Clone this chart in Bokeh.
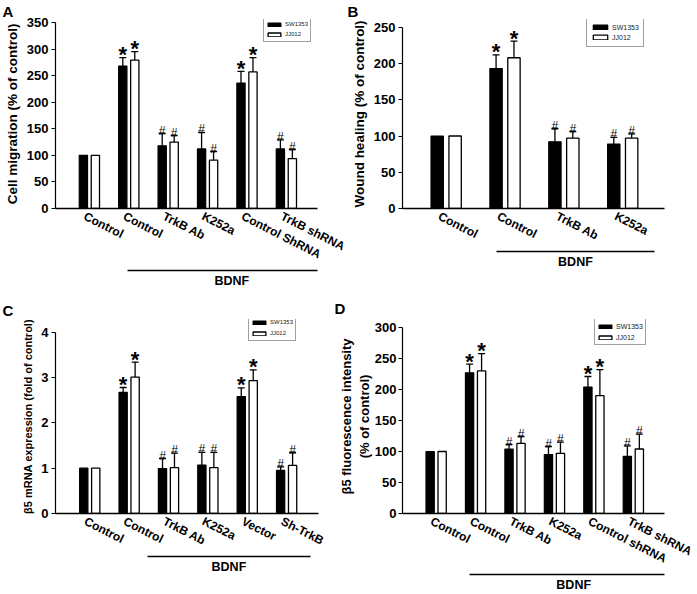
import numpy as np
from bokeh.plotting import figure
from bokeh.models import (Range1d, FixedTicker, LinearAxis, ColumnDataSource, Whisker,
                          TeeHead, Legend, LegendItem)
from bokeh.layouts import row, column
from bokeh.core.properties import value
from bokeh.embed import file_html
from bokeh.resources import INLINE

FONT = "Liberation Sans"
series_names = ["SW1353", "JJ012"]
group_label = "BDNF"

# ---------------- Panel A ----------------
a_categories = ["Control", "Control", "TrkB Ab", "K252a", "Control ShRNA", "TrkB shRNA"]
a_sw1353 = [100, 268, 118, 112, 236, 112]
a_sw1353_err = [0, 16, 23, 31, 22, 17]
a_jj012 = [100, 279, 125, 91, 257, 94]
a_jj012_err = [0, 16, 12, 16, 27, 17]
a_sw1353_sig = ["", "*", "#", "#", "*", "#"]
a_jj012_sig = ["", "*", "#", "#", "*", "#"]
a_yticks = [0, 50, 100, 150, 200, 250, 300, 350]
a_ylabel = "Cell migration (% of control)"

# ---------------- Panel B ----------------
b_categories = ["Control", "Control", "TrkB Ab", "K252a"]
b_sw1353 = [100, 193, 92, 89]
b_sw1353_err = [0, 19, 18, 9]
b_jj012 = [100, 208, 97, 97]
b_jj012_err = [0, 23, 9, 6]
b_sw1353_sig = ["", "*", "#", "#"]
b_jj012_sig = ["", "*", "#", "#"]
b_yticks = [0, 50, 100, 150, 200, 250]
b_ylabel = "Wound healing (% of control)"

# ---------------- Panel C ----------------
c_categories = ["Control", "Control", "TrkB Ab", "K252a", "Vector", "Sh-TrkB"]
c_sw1353 = [1.0, 2.67, 0.99, 1.07, 2.58, 0.95]
c_sw1353_err = [0, 0.11, 0.22, 0.28, 0.19, 0.08]
c_jj012 = [1.0, 3.01, 1.01, 1.01, 2.93, 1.06]
c_jj012_err = [0, 0.33, 0.32, 0.34, 0.24, 0.28]
c_sw1353_sig = ["", "*", "#", "#", "*", "#"]
c_jj012_sig = ["", "*", "#", "#", "*", "#"]
c_yticks = [0, 1, 2, 3, 4]
c_ylabel = "β5 mRNA expression (fold of control)"

# ---------------- Panel D ----------------
d_categories = ["Control", "Control", "TrkB Ab", "K252a", "Control shRNA", "TrkB shRNA"]
d_sw1353 = [100, 227, 104, 95, 204, 92]
d_sw1353_err = [0, 14, 7, 13, 17, 17]
d_jj012 = [100, 230, 113, 97, 190, 104]
d_jj012_err = [0, 28, 11, 18, 42, 24]
d_sw1353_sig = ["", "*", "#", "#", "*", "#"]
d_jj012_sig = ["", "*", "#", "#", "*", "#"]
d_yticks = [0, 50, 100, 150, 200, 250, 300]
d_ylabel = "β5 fluorescence intensity\n(% of control)"

BAR_OFF = 0.152
BAR_W = 0.21
LABEL_SHIFT = -0.12


def make_panel(cats, sw, sw_err, jj, jj_err, sw_sig, jj_sig, yticks, ylabel, lay):
    frame_h = lay["height"] - lay["top"] - lay["bottom"]
    head = lay["head"]
    ytop = yticks[-1]
    y_end = ytop * frame_h / (frame_h - head)
    p = figure(width=lay["width"], height=lay["height"], title=lay["letter"],
               x_range=Range1d(*lay["xr"]), y_range=Range1d(0, y_end),
               output_backend="svg", toolbar_location=None,
               min_border_left=lay["left"], min_border_right=lay["right"],
               min_border_top=lay["top"], min_border_bottom=lay["bottom"])
    p.outline_line_color = None
    p.xgrid.visible = False
    p.ygrid.visible = False
    p.background_fill_color = "white"
    p.border_fill_color = "white"

    # panel letter
    t = p.title
    t.align = "left"
    t.offset = lay["loff"]
    t.standoff = lay["lstand"]
    t.text_font = FONT
    t.text_font_style = "bold"
    t.text_font_size = "15px"
    t.text_color = "black"
    t.text_line_height = 1.0

    n = len(cats)
    idx = np.arange(n)

    # y axis
    ya = p.yaxis[0]
    ya.ticker = FixedTicker(ticks=yticks)
    ya.bounds = (0, ytop)
    ya.axis_line_color = "black"
    ya.axis_line_width = 1.2
    ya.major_tick_line_color = "black"
    ya.major_tick_line_width = 1.2
    ya.major_tick_out = 4
    ya.major_tick_in = 0
    ya.minor_tick_line_color = None
    ya.major_label_standoff = lay.get("ystand", 3)
    ya.major_label_text_font = FONT
    ya.major_label_text_font_style = "bold"
    ya.major_label_text_font_size = "13px"
    ya.major_label_text_color = "black"
    ya.axis_label = ylabel
    ya.axis_label_standoff = lay.get("ylstand", 4)
    ya.axis_label_text_font = FONT
    ya.axis_label_text_font_style = "bold"
    ya.axis_label_text_font_size = lay["ylfont"]
    ya.axis_label_text_color = "black"

    # x axis with rotated category labels
    ticks = [float(i + LABEL_SHIFT) for i in idx]
    xa = p.xaxis[0]
    xa.ticker = FixedTicker(ticks=ticks)
    xa.major_label_overrides = {tk: c for tk, c in zip(ticks, cats)}
    xa.major_label_orientation = -0.47
    xa.major_tick_line_color = None
    xa.major_tick_out = 0
    xa.major_tick_in = 0
    xa.minor_tick_line_color = None
    xa.axis_line_color = "black"
    xa.axis_line_width = 1.3
    xa.major_label_standoff = 7
    xa.major_label_text_font = FONT
    xa.major_label_text_font_style = "bold"
    xa.major_label_text_font_size = "12px"
    xa.major_label_text_color = "black"

    # BDNF bracket: a bounded axis line with a single centred label
    b0, b1 = lay["bdnf"]
    mid = (b0 + b1) / 2.0
    ax2 = LinearAxis(bounds=(b0, b1), ticker=FixedTicker(ticks=[mid]),
                     major_label_overrides={mid: group_label})
    ax2.major_tick_line_color = None
    ax2.major_tick_out = 0
    ax2.major_tick_in = 0
    ax2.minor_tick_line_color = None
    ax2.axis_line_color = "black"
    ax2.axis_line_width = 1.5
    ax2.major_label_standoff = 3
    ax2.major_label_text_font = FONT
    ax2.major_label_text_font_style = "bold"
    ax2.major_label_text_font_size = "12.5px"
    ax2.major_label_text_color = "black"
    p.add_layout(ax2, "below")

    # bars
    x_sw = idx - BAR_OFF
    x_jj = idx + BAR_OFF
    r_sw = p.vbar(x=x_sw, top=sw, width=BAR_W, bottom=0, fill_color="black",
                  line_color="black", line_width=1.2)
    r_jj = p.vbar(x=x_jj, top=jj, width=BAR_W, bottom=0, fill_color="white",
                  line_color="black", line_width=1.3)

    # error bars (upper only)
    ex, elo, ehi = [], [], []
    for xs, vals, errs in ((x_sw, sw, sw_err), (x_jj, jj, jj_err)):
        for x, v, e in zip(xs, vals, errs):
            if e > 0:
                ex.append(float(x)); elo.append(v); ehi.append(v + e)
    esrc = ColumnDataSource(dict(x=ex, lower=elo, upper=ehi))
    p.add_layout(Whisker(source=esrc, base="x", lower="lower", upper="upper",
                         dimension="height", line_color="black", line_width=1.3,
                         lower_head=None,
                         upper_head=TeeHead(size=7, line_color="black", line_width=1.3)))

    # significance marks
    stars = dict(x=[], y=[], t=[])
    hashes = dict(x=[], y=[], t=[])
    for xs, vals, errs, sigs in ((x_sw, sw, sw_err, sw_sig), (x_jj, jj, jj_err, jj_sig)):
        for x, v, e, s in zip(xs, vals, errs, sigs):
            if s == "*":
                stars["x"].append(float(x)); stars["y"].append(v + e); stars["t"].append(s)
            elif s == "#":
                hashes["x"].append(float(x)); hashes["y"].append(v + e); hashes["t"].append(s)
    p.text(x="x", y="y", text="t", source=ColumnDataSource(stars),
           text_font=value(FONT), text_font_size="22px", text_font_style="bold",
           text_align="center", text_baseline="alphabetic", y_offset=-3, text_color="black")
    p.text(x="x", y="y", text="t", source=ColumnDataSource(hashes),
           text_font=value(FONT), text_font_size="12px", text_font_style="normal",
           text_align="center", text_baseline="alphabetic", y_offset=-3, text_color="black")

    # legend
    lg = lay["legend"]
    legend = Legend(items=[LegendItem(label=series_names[0], renderers=[r_sw]),
                           LegendItem(label=series_names[1], renderers=[r_jj])],
                    location=lg["loc"])
    legend.border_line_color = "#444444"
    legend.border_line_width = 1
    legend.background_fill_color = "white"
    legend.background_fill_alpha = 1
    legend.padding = lg["pad"]
    legend.spacing = lg["sp"]
    legend.margin = 0
    legend.glyph_width = lg["gw"]
    legend.glyph_height = lg["gh"]
    legend.label_height = lg["lh"]
    legend.label_standoff = 3
    legend.label_text_font = FONT
    legend.label_text_font_size = lg["font"]
    legend.label_text_color = "#222222"
    legend.label_text_baseline = "middle"
    p.add_layout(legend)
    return p


lay_a = dict(width=347, height=295, left=55, right=30, top=19, bottom=86, head=3,
             xr=(-0.86, 5.79), bdnf=(0.96, 6.27), ylfont="13.5px",
             letter="A", loff=-53, lstand=0,
             legend=dict(loc=(208, 166), pad=2, sp=0, gw=16, gh=5, lh=10, font="6px"))
lay_b = dict(width=350, height=295, left=55, right=33, top=14, bottom=87, head=8,
             xr=(-0.742, 3.71), bdnf=(0.854, 3.54), ylfont="13.5px",
             letter="B", loff=-55, lstand=0,
             legend=dict(loc=(184, 161), pad=4, sp=0, gw=18, gh=6, lh=10, font="7px"))
lay_c = dict(width=332, height=299, left=55, right=14, top=20, bottom=80, head=13,
             xr=(-0.87, 5.81), bdnf=(1.46, 5.61), ylfont="11px",
             letter="C", loff=-53, lstand=2,
             legend=dict(loc=(193, 172), pad=2, sp=1, gw=16, gh=5, lh=10, font="6px"))
lay_d = dict(width=365, height=299, left=70, right=33, top=24, bottom=81, head=8,
             xr=(-0.853, 5.79), bdnf=(0.835, 6.14), ylfont="13px",
             ystand=2, ylstand=0,
             letter="D", loff=-68, lstand=5,
             legend=dict(loc=(192, 168), pad=2, sp=1, gw=16, gh=5, lh=10, font="7px"))

pA = make_panel(a_categories, a_sw1353, a_sw1353_err, a_jj012, a_jj012_err,
                a_sw1353_sig, a_jj012_sig, a_yticks, a_ylabel, lay_a)
pB = make_panel(b_categories, b_sw1353, b_sw1353_err, b_jj012, b_jj012_err,
                b_sw1353_sig, b_jj012_sig, b_yticks, b_ylabel, lay_b)
pC = make_panel(c_categories, c_sw1353, c_sw1353_err, c_jj012, c_jj012_err,
                c_sw1353_sig, c_jj012_sig, c_yticks, c_ylabel, lay_c)
pD = make_panel(d_categories, d_sw1353, d_sw1353_err, d_jj012, d_jj012_err,
                d_sw1353_sig, d_jj012_sig, d_yticks, d_ylabel, lay_d)

layout = column(row(pA, pB), row(pC, pD))
open("out.html", "w").write(file_html(layout, INLINE))
